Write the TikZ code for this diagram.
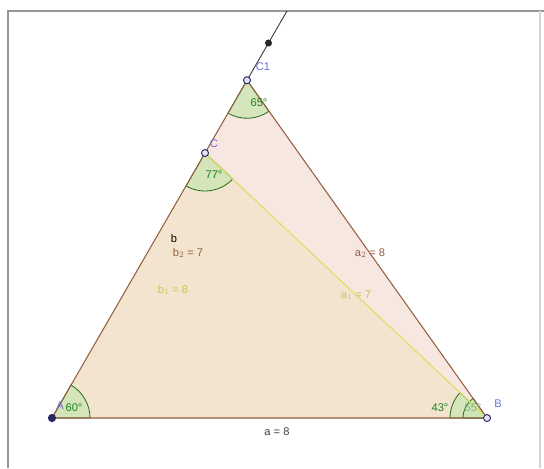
\documentclass[tikz,border=0pt]{standalone}
\usepackage{fontspec}
\setmainfont{Liberation Sans}
\usetikzlibrary{calc}

\definecolor{brn}{RGB}{150,95,65}
\definecolor{ylw}{RGB}{222,222,95}
\definecolor{tan}{RGB}{242,228,206}
\definecolor{pnk}{RGB}{246,231,225}
\definecolor{angF}{RGB}{205,230,180}
\definecolor{angD}{RGB}{40,110,30}
\definecolor{angT}{RGB}{30,130,30}
\definecolor{ptD}{RGB}{40,40,100}
\definecolor{ptB}{RGB}{110,110,210}
\definecolor{frm}{RGB}{150,150,150}

\begin{document}
\begin{tikzpicture}[x=0.03cm,y=0.03cm,every node/.style={font=\fontsize{9.5}{11}\selectfont,inner sep=1pt},
 side/.style={draw=brn,line width=0.9pt},
 ang/.style={draw=angD,fill=angF,fill opacity=0.8,line width=0.7pt},
 angl/.style={text=angT},
 opt/.style={circle,draw=ptD,fill=white!80!ptB,line width=0.8pt,inner sep=0pt,minimum size=6pt},
 fpt/.style={circle,fill=ptD,inner sep=0pt,minimum size=7pt},
 lbl/.style={text=ptB}]
\useasboundingbox (0,0) rectangle (544,468);
% frame
\draw[frm,line width=2pt] (8,0) -- (8,457) -- (544,457);
\draw[frm!40,line width=1pt] (540,0) -- (540,457);
% points
\coordinate (A) at (52,50);
\coordinate (B) at (487,50);
\coordinate (C) at ($(A)+(60:306)$);
\coordinate (C1) at ($(A)+(60:390)$);
\coordinate (D) at ($(A)+(60:433)$);
\coordinate (T) at ($(A)+(60:470)$);
% triangles
\fill[pnk] (A) -- (B) -- (C1) -- cycle;
\fill[tan] (A) -- (B) -- (C) -- cycle;
% angles
\filldraw[ang] (A) -- ++(0:38) arc[start angle=0,end angle=60,radius=38] -- cycle;
\filldraw[ang] (C) -- ++(240:38) arc[start angle=240,end angle=316.8,radius=38] -- cycle;
\filldraw[ang] (C1) -- ++(240:38) arc[start angle=240,end angle=305.3,radius=38] -- cycle;
\filldraw[ang] (B) -- ++(180:37) arc[start angle=180,end angle=136.8,radius=37] -- cycle;
\filldraw[ang] (B) -- ++(180:24) arc[start angle=180,end angle=125.3,radius=24] -- cycle;
% sides
\draw[line width=0.8pt,black!75] (C1) -- (T);
\draw[side] (A) -- (B) -- (C1) -- cycle;
\draw[ylw,line width=0.9pt] (C) -- (B);
% angle labels
\node[angl] (a60) at (74,60) {60°};
\node[angl] (a77) at (214,293) {77°};
\node[angl] (a65) at (259,365) {65°};
\node[angl] (a43) at (440,60) {43°};
\node[text=angT!55] (a55) at (473,60) {55°};
% side labels
\node[text=black!75] (la) at (277,36) {a = 8};
\node (lb) at (174,229) {b};
\node[text=brn] (lb2) at (188,215) {b$_2$ = 7};
\node[text=ylw!90!black] (lb1) at (173,178) {b$_1$ = 8};
\node[text=brn] (la2) at (370,215) {a$_2$ = 8};
\node[text=ylw!90!black] (la1) at (356,173) {a$_1$ = 7};
% point labels
\node[lbl] (lA) at (60,62) {A};
\node[lbl] (lB) at (498,64) {B};
\node[lbl] (lC) at (214,324) {C};
\node[lbl] (lC1) at (263,401) {C1};
\node[fpt] (pA) at (A) {};
\node[opt] (pB) at (B) {};
\node[opt] (pC) at (C) {};
\node[opt] (pC1) at (C1) {};
\node[fpt,fill=black!85,minimum size=6pt] (pD) at (D) {};
\end{tikzpicture}
\end{document}
